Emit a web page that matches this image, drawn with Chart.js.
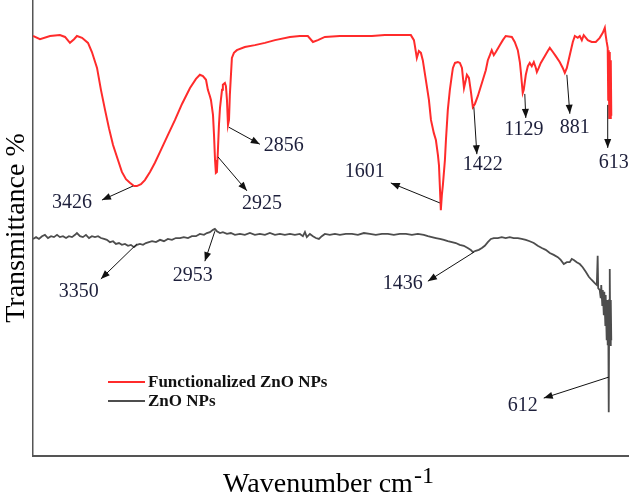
<!DOCTYPE html>
<html><head><meta charset="utf-8">
<script src="https://cdn.jsdelivr.net/npm/chart.js@4.4.1/dist/chart.umd.min.js"></script>
<style>html,body{margin:0;padding:0;background:#fff}canvas{display:block}</style>
</head><body>
<canvas id="c" width="629" height="496"></canvas>
<script>
// ---- text ----
const seriesNames = ['Functionalized ZnO NPs', 'ZnO NPs'];
const yTitle = 'Transmittance %';
const xTitleMain = 'Wavenumber cm';
const xTitleSup = '-1';

// ---- series: Functionalized ZnO NPs (wavenumber cm-1, transmittance a.u.) ----
const functionalizedWavenumber = [4000,3959,3900,3842,3812,3783,3759,3742,3712,3677,3654,3624,3601,3577,3554,3530,3501,3478,3454,3431,3407,3390,3366,3343,3313,3284,3254,3213,3166,3125,3078,3043,3020,3002,2984,2973,2961,2955,2943,2937,2931,2926,2920,2914,2908,2902,2890,2885,2873,2867,2861,2855,2849,2844,2832,2820,2803,2756,2697,2638,2579,2491,2433,2386,2356,2327,2286,2198,2080,2010,1934,1846,1781,1763,1758,1746,1734,1722,1711,1693,1675,1663,1646,1634,1622,1616,1611,1605,1599,1593,1581,1575,1564,1552,1540,1534,1522,1505,1493,1481,1475,1469,1458,1452,1440,1428,1417,1405,1388,1358,1341,1329,1317,1306,1294,1282,1259,1241,1224,1188,1171,1153,1141,1135,1124,1118,1106,1094,1083,1071,1059,1047,1041,1030,1018,994,977,965,947,930,907,889,877,865,848,830,818,801,789,777,766,742,719,695,672,654,642,637,631,625,622,619,616,613,610,607,604];
const functionalizedTransmittance = [92.1,91.4,92.1,92.3,91.9,90.6,91.4,92.1,91.7,90.6,88.6,85.1,80.3,75.9,71.9,68.2,64.9,62.3,60.7,59.9,59.2,59.2,59.6,60.5,62.3,64.3,66.7,70.0,73.7,77.2,80.7,82.7,83.6,83.3,82.5,80.3,78.9,78.1,74.8,70.4,64.9,62.1,62.3,67.1,72.6,76.3,80.3,81.4,81.8,81.1,78.1,72.6,73.7,79.2,87.3,88.4,89.0,89.7,90.1,90.6,91.2,91.9,92.1,92.1,90.8,91.2,91.9,92.1,92.1,92.1,92.3,92.3,92.3,91.2,90.1,87.3,88.8,88.4,86.8,82.5,78.1,73.7,70.8,69.3,66.0,63.8,59.4,53.9,57.2,59.4,64.9,69.3,75.9,80.3,83.6,85.1,86.2,86.4,86.2,85.1,82.9,80.7,82.5,83.6,82.9,79.8,76.5,77.2,78.9,82.5,84.6,86.8,87.9,89.0,87.9,88.6,90.1,91.2,92.1,91.9,90.8,89.0,86.4,84.2,79.6,80.3,83.6,85.5,86.2,85.5,86.4,85.1,84.2,85.1,86.2,87.7,88.8,89.5,88.6,87.7,86.4,85.1,84.0,85.1,87.9,90.8,92.1,91.7,92.1,91.2,92.3,91.2,90.8,90.8,91.7,92.8,93.9,92.3,90.8,89.5,78.1,89.0,74.1,88.6,74.1,86.8,74.6];

// ---- series: ZnO NPs ----
const zincOxideWavenumber = [4000,3982,3965,3947,3930,3912,3894,3877,3859,3842,3824,3806,3789,3771,3753,3742,3724,3707,3689,3671,3654,3636,3618,3601,3583,3566,3548,3530,3513,3495,3478,3460,3442,3425,3407,3390,3372,3354,3337,3319,3301,3278,3254,3231,3208,3184,3161,3137,3114,3090,3067,3043,3020,2996,2979,2961,2943,2932,2920,2902,2885,2861,2838,2814,2785,2756,2726,2697,2668,2638,2609,2579,2550,2521,2491,2462,2433,2415,2403,2392,2374,2356,2339,2321,2304,2286,2257,2227,2198,2163,2127,2092,2057,2022,1987,1951,1916,1881,1846,1810,1775,1740,1705,1681,1658,1634,1611,1587,1564,1540,1517,1494,1470,1447,1429,1417,1400,1382,1364,1347,1329,1311,1294,1270,1247,1224,1200,1177,1153,1130,1106,1083,1059,1036,1012,989,965,942,918,901,883,865,848,836,824,807,789,772,754,736,719,701,689,684,681,672,666,663,657,654,648,645,639,637,631,628,625,622,619,616,613,610,607,604];
const zincOxideTransmittance = [47.6,48.0,47.6,48.2,48.5,47.8,48.2,48.0,48.5,48.0,48.2,47.8,48.2,48.0,48.5,48.9,48.2,48.0,48.5,47.8,48.2,48.0,48.2,47.8,47.6,47.4,46.9,47.1,46.5,46.7,46.3,46.5,46.1,46.3,45.8,46.3,46.5,46.3,46.7,46.9,47.1,46.9,47.4,47.1,47.6,47.4,47.8,47.8,48.0,47.8,48.2,48.2,48.7,48.5,48.9,49.1,49.6,49.8,49.3,48.9,49.1,48.7,48.9,48.5,48.7,48.5,48.9,48.5,48.7,48.5,48.9,48.5,48.7,48.5,48.7,48.5,48.7,48.2,49.1,48.0,48.7,48.2,47.8,47.6,48.2,48.7,48.5,48.7,48.5,48.7,48.7,48.5,48.9,48.7,48.5,48.7,48.7,48.5,48.7,48.7,48.5,48.7,48.5,48.2,48.0,47.8,47.6,47.4,47.1,46.9,46.7,46.3,46.1,45.6,45.2,44.7,45.0,45.2,45.6,46.1,46.9,47.6,47.8,47.8,48.0,47.8,48.0,47.8,47.8,47.6,47.4,47.1,46.7,46.1,45.6,45.2,44.5,44.1,43.6,43.0,42.1,42.5,42.5,43.2,43.0,42.5,42.1,41.4,40.4,39.3,38.6,37.9,37.5,43.9,36.8,36.4,34.6,37.5,33.1,36.4,30.9,36.0,28.7,35.3,25.4,34.2,24.3,33.1,9.6,34.2,41.0,24.3,34.2,25.4];

// ---- peak annotations: label, series index, anchor on the curve (wavenumber, transmittance) ----
const peakLabels = ['3426','2925','2856','1601','1422','1129','881','613','3350','2953','1436','612'];
const peakSeries = [0,0,0,0,0,0,0,0,1,1,1,1];
const peakAnchorWavenumber = [3413,2914,2850,1611,1411,1112,865,625,3390,2932,1411,619];
const peakAnchorTransmittance = [59.2,65.6,72.1,55.5,76.5,79.4,83.6,77.0,46.5,49.3,44.7,17.3];

// ---- layout of annotation arrows / labels (pixel offsets from anchor) ----
const peakLayout = [
  {tip:[-31,14], text:[-61,17]},
  {tip:[29,34],  text:[44,47]},
  {tip:[31,17],  text:[55,19]},
  {tip:[-49,-20],text:[-75,-31]},
  {tip:[3,47],   text:[9,58]},
  {tip:[1,24],   text:[-1,36]},
  {tip:[3,39],   text:[8,53]},
  {tip:[0,43],   text:[6,58]},
  {tip:[-36,35], text:[-58,48]},
  {tip:[-10,30], text:[-22,45]},
  {tip:[-46,29], text:[-71,32]},
  {tip:[-65,21], text:[-86,29]}
];

const seriesColors = ['#ff2b2b', '#4d4d4d'];
const serif = "'Liberation Serif', 'Times New Roman', serif";

function toPoints(xs, ys){ return xs.map((x,i)=>({x:x, y:ys[i]})); }

function drawArrow(ctx, x1, y1, x2, y2){
  ctx.beginPath(); ctx.moveTo(x1,y1); ctx.lineTo(x2,y2); ctx.stroke();
  const a = Math.atan2(y2-y1, x2-x1), L = 9, W = 3.5;
  ctx.beginPath();
  ctx.moveTo(x2,y2);
  ctx.lineTo(x2 - L*Math.cos(a) + W*Math.sin(a), y2 - L*Math.sin(a) - W*Math.cos(a));
  ctx.lineTo(x2 - L*Math.cos(a) - W*Math.sin(a), y2 - L*Math.sin(a) + W*Math.cos(a));
  ctx.closePath(); ctx.fill();
}

const decorPlugin = {
  id: 'decor',
  afterDraw(chart){
    const ctx = chart.ctx, xs = chart.scales.x, ys = chart.scales.y, ca = chart.chartArea;
    ctx.save();
    // annotations
    ctx.strokeStyle = '#111'; ctx.fillStyle = '#111'; ctx.lineWidth = 1;
    peakLabels.forEach((lab, i) => {
      const ax = xs.getPixelForValue(peakAnchorWavenumber[i]);
      const ay = ys.getPixelForValue(peakAnchorTransmittance[i]);
      const L = peakLayout[i];
      ctx.strokeStyle = '#111'; ctx.fillStyle = '#111';
      drawArrow(ctx, ax, ay, ax + L.tip[0], ay + L.tip[1]);
      ctx.fillStyle = '#1d1f3b';
      ctx.font = '20px ' + serif;
      ctx.textAlign = 'center'; ctx.textBaseline = 'middle';
      ctx.fillText(lab, ax + L.text[0], ay + L.text[1]);
    });
    // legend
    const lx0 = 108, lx1 = 145, ly = [382, 401];
    chart.data.datasets.forEach((ds, i) => {
      ctx.strokeStyle = ds.borderColor; ctx.lineWidth = 2;
      ctx.beginPath(); ctx.moveTo(lx0, ly[i]); ctx.lineTo(lx1, ly[i]); ctx.stroke();
      ctx.fillStyle = '#111';
      ctx.font = 'bold 17px ' + serif;
      ctx.textAlign = 'left'; ctx.textBaseline = 'middle';
      ctx.fillText(ds.label, 148, ly[i] + 1);
    });
    // x axis title with superscript
    ctx.fillStyle = '#000';
    ctx.textBaseline = 'alphabetic'; ctx.textAlign = 'left';
    ctx.font = '28px ' + serif;
    const wMain = ctx.measureText(xTitleMain).width;
    ctx.font = '24px ' + serif;
    const wSup = ctx.measureText(xTitleSup).width;
    const cx = (ca.left + ca.right)/2 - 3;
    const x0 = cx - (wMain + wSup)/2;
    ctx.font = '28px ' + serif;
    ctx.fillText(xTitleMain, x0, 492);
    ctx.font = '24px ' + serif;
    ctx.fillText(xTitleSup, x0 + wMain + 1, 483);
    ctx.restore();
  }
};

new Chart(document.getElementById('c'), {
  type: 'line',
  data: {
    datasets: [
      {label: seriesNames[0], data: toPoints(functionalizedWavenumber, functionalizedTransmittance),
       borderColor: seriesColors[0], borderWidth: 2, pointRadius: 0, tension: 0, fill: false},
      {label: seriesNames[1], data: toPoints(zincOxideWavenumber, zincOxideTransmittance),
       borderColor: seriesColors[1], borderWidth: 1.8, pointRadius: 0, tension: 0, fill: false}
    ]
  },
  options: {
    responsive: false, animation: false,
    layout: {padding: 0},
    plugins: {legend: {display: false}, tooltip: {enabled: false}},
    scales: {
      x: {type: 'linear', reverse: true, min: 500, max: 4000,
          ticks: {display: false}, grid: {display: false, drawTicks: false},
          border: {display: true, color: '#555', width: 2},
          afterFit(s){ s.height = 40; }},
      y: {type: 'linear', min: 0, max: 100,
          ticks: {display: false}, grid: {display: false, drawTicks: false},
          border: {display: true, color: '#555', width: 1.5},
          title: {display: true, text: yTitle, color: '#000', padding: 0,
                  font: {family: serif, size: 28, weight: 'normal'}},
          afterFit(s){ s.width = 33; }}
    }
  },
  plugins: [decorPlugin]
});
</script>
</body></html>
